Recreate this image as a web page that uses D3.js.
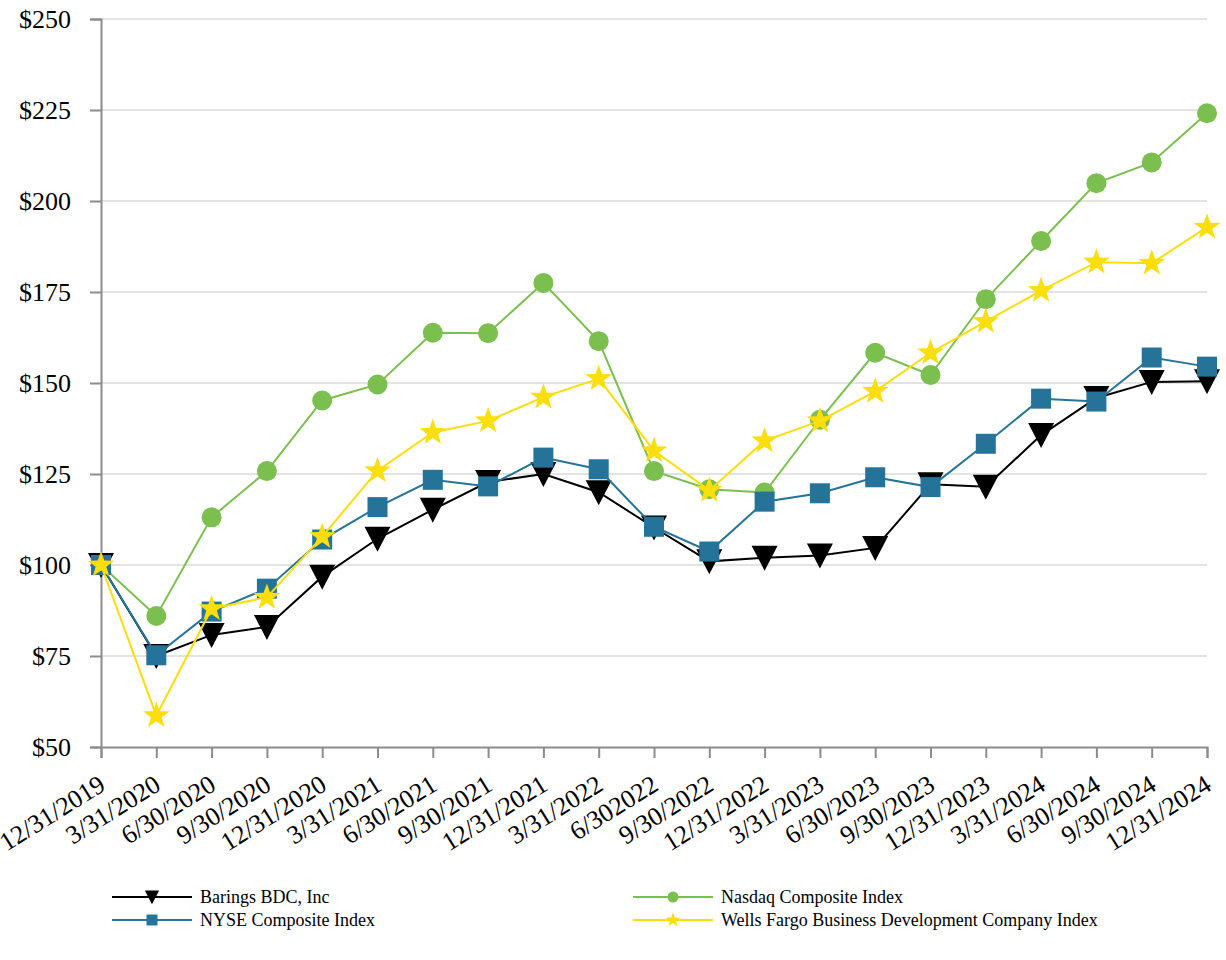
<!DOCTYPE html>
<html>
<head>
<meta charset="utf-8">
<script src="https://cdn.jsdelivr.net/npm/d3@7"></script>
<style>
  body { margin: 0; background: #fff; }
  svg text { font-family: "Liberation Serif", "Times New Roman", "DejaVu Serif", serif; }
</style>
</head>
<body>
<svg id="chart" width="1226" height="960"></svg>
<script>
const dates = ["12/31/2019", "3/31/2020", "6/30/2020", "9/30/2020", "12/31/2020", "3/31/2021",
  "6/30/2021", "9/30/2021", "12/31/2021", "3/31/2022", "6/302022", "9/30/2022", "12/31/2022",
  "3/31/2023", "6/30/2023", "9/30/2023", "12/31/2023", "3/31/2024", "6/30/2024", "9/30/2024", "12/31/2024"];

const barings = [100, 75, 80.8, 83, 96.8, 107.2, 115.2, 122.8, 125, 120, 110.3, 101, 102, 102.6, 104.7,
  122.2, 121.5, 135.7, 145.9, 150.3, 150.5];
const nyse = [100, 75.2, 87.2, 93.5, 107, 115.9, 123.4, 121.6, 129.5, 126.3, 110.5, 103.7, 117.4,
  119.7, 124.1, 121.4, 133.3, 145.7, 144.9, 157, 154.5];
const nasdaq = [100, 86, 113.1, 125.8, 145.2, 149.6, 163.8, 163.7, 177.5, 161.5, 125.8, 120.8, 119.9,
  139.9, 158.3, 152.2, 173, 189, 204.9, 210.6, 224.1];
const wells = [100, 58.6, 88, 91.1, 107.8, 125.9, 136.4, 139.6, 146.1, 151.2, 131.4, 120.5, 134.1,
  139.6, 147.7, 158.3, 166.9, 175.4, 183.2, 182.9, 192.8];

const yTicks = [50, 75, 100, 125, 150, 175, 200, 225, 250];

const series = [
  { name: "Barings BDC, Inc", values: barings, color: "#000000", marker: "triangle" },
  { name: "Nasdaq Composite Index", values: nasdaq, color: "#7bbf4f", marker: "circle" },
  { name: "NYSE Composite Index", values: nyse, color: "#257398", marker: "square" },
  { name: "Wells Fargo Business Development Company Index", values: wells, color: "#fbde0a", marker: "star" }
];

const plot = { left: 101, right: 1207, top: 19, bottom: 747 };

const svg = d3.select('#chart');

const x = d3.scalePoint().domain(dates).range([plot.left, plot.right]);
const y = d3.scaleLinear().domain([50, 250]).range([plot.bottom, plot.top]);

// gridlines
svg.append('g')
  .selectAll('line')
  .data(yTicks.slice(1))
  .join('line')
  .attr('x1', plot.left).attr('x2', plot.right)
  .attr('y1', d => y(d)).attr('y2', d => y(d))
  .attr('stroke', '#e3e3e3').attr('stroke-width', 2);

// y axis
const yAxis = svg.append('g')
  .attr('transform', `translate(${plot.left},0)`)
  .call(d3.axisLeft(y).tickValues(yTicks).tickSize(11).tickPadding(19).tickFormat(d => '$' + d));
yAxis.attr('font-family', null);
yAxis.select('.domain').attr('stroke', '#8c8c8c').attr('stroke-width', 2);
yAxis.selectAll('.tick line').attr('stroke', '#8c8c8c').attr('stroke-width', 2);
yAxis.selectAll('.tick text')
  .style('font-size', '26px')
  .attr('fill', '#000');

// x axis
const xAxis = svg.append('g')
  .attr('transform', `translate(0,${plot.bottom})`)
  .call(d3.axisBottom(x).tickSize(11).tickFormat(''));
xAxis.select('.domain').attr('stroke', '#8c8c8c').attr('stroke-width', 2);
xAxis.selectAll('.tick line').attr('stroke', '#8c8c8c').attr('stroke-width', 2);

svg.append('g')
  .selectAll('text')
  .data(dates)
  .join('text')
  .attr('transform', d => `translate(${x(d) + 6},${plot.bottom + 42}) rotate(-32)`)
  .attr('text-anchor', 'end')
  .style('font-size', '26px')
  .attr('fill', '#000')
  .text(d => d);

// marker shapes
function starPath(R, r) {
  const pts = [];
  for (let i = 0; i < 10; i++) {
    const rad = i % 2 === 0 ? R : r;
    const a = -Math.PI / 2 + i * Math.PI / 5;
    pts.push([rad * Math.cos(a), rad * Math.sin(a)]);
  }
  return 'M' + pts.map(p => p.join(',')).join('L') + 'Z';
}

function drawMarker(g, type, color, s) {
  if (type === 'triangle') {
    g.append('path').attr('d', `M${-13 * s},${-12 * s}L${13 * s},${-12 * s}L0,${13 * s}Z`).attr('fill', color);
  } else if (type === 'square') {
    g.append('rect').attr('x', -10 * s).attr('y', -10 * s).attr('width', 20 * s).attr('height', 20 * s).attr('fill', color);
  } else if (type === 'circle') {
    g.append('circle').attr('r', 10 * s).attr('fill', color);
  } else {
    g.append('path').attr('d', starPath(14 * s, 5.6 * s)).attr('fill', color);
  }
}

const line = d3.line().x((d, i) => x(dates[i])).y(d => y(d));

series.forEach(s => {
  const g = svg.append('g');
  g.append('path')
    .attr('d', line(s.values))
    .attr('fill', 'none')
    .attr('stroke', s.color)
    .attr('stroke-width', 2);
  s.values.forEach((v, i) => {
    const m = g.append('g').attr('transform', `translate(${x(dates[i])},${y(v)})`);
    drawMarker(m, s.marker, s.color, 1);
  });
});

// legend
const legendItems = [
  { s: series[0], x: 112, y: 897 },
  { s: series[2], x: 112, y: 920 },
  { s: series[1], x: 633, y: 897 },
  { s: series[3], x: 633, y: 920 }
];

legendItems.forEach(item => {
  const g = svg.append('g').attr('transform', `translate(${item.x},${item.y})`);
  g.append('line').attr('x1', 0).attr('x2', 80).attr('y1', 0).attr('y2', 0)
    .attr('stroke', item.s.color).attr('stroke-width', 2);
  const m = g.append('g').attr('transform', 'translate(40,0)');
  drawMarker(m, item.s.marker, item.s.color, 0.55);
  g.append('text')
    .attr('x', 88).attr('y', 0).attr('dy', '0.33em')
    .style('font-size', '18px')
    .attr('fill', '#000')
    .text(item.s.name);
});
</script>
</body>
</html>
